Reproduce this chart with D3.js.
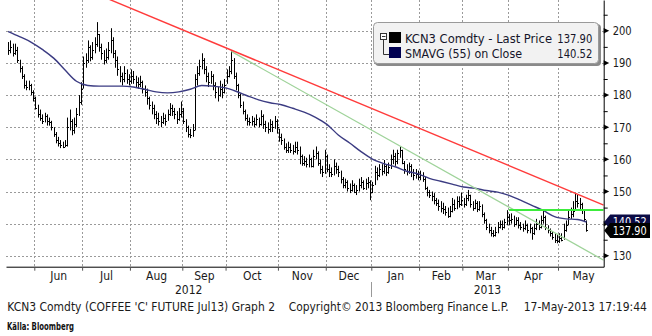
<!DOCTYPE html>
<html><head><meta charset="utf-8">
<script src="https://cdn.jsdelivr.net/npm/d3@7"></script>
<style>
body{margin:0;background:#fff;}
svg{display:block;}
.t{font-family:"DejaVu Sans Condensed","DejaVu Sans",sans-serif;font-stretch:condensed;}
</style></head><body>
<svg id="c" width="652" height="336"></svg>
<script>
// ---------- data ----------
const firstDay = "2012-05-15", lastDay = "2013-05-17";
const holidays = ["2012-05-28","2012-07-04","2012-09-03","2012-11-22","2012-12-25",
                  "2013-01-01","2013-01-21","2013-02-18","2013-03-29","2013-05-27"];
const closes = [
194,195,193,194,191,188.5,186,183,182.5,183,
181,179,176,174,173,172,173.5,172,171.5,170,
168,166,165,164.5,164,164.5,170,172,169,171,
174,178,182,190,191,195,192,194,196,199,
195,193,191,192,194,197,193,191,188,186,
185,187,185,184.5,186,185,184,183.5,184,182,
181,179,177,176,174,173,172,171.5,173,172,
174,176,175,174,172.5,174,175,172,170,168,
167.5,169,185,187,189,191,188,186,184,186,
183,181,180,182,181,183,186,187.5,191,186,
183,180,177,175,173,172,171.5,172,171,172.5,
171,173.5,171,170,169.5,171,170,172,170,167,
166,164,163,164,163,162.5,164,163,161,159,
159.5,158.5,160,158,161,162,159,157,156,161,
157,156,155.5,158,157,156,154,152,153,151,
150.5,152,150,150.5,152,153,151,152.5,153,150,
152,156,155,157,156.5,158,156,157.5,160,161,
159.5,162,163,159,157,156.5,158,156,155,155.5,
154.5,155,154,151,150,149,148.5,147.5,146.5,145.5,
145,144.5,143.5,142.5,144,146,145,147,146,147.5,
146,148,149,146,145,146.5,144.5,145.5,143,141,
139,138,137,136.5,137.5,139,140,139,140.5,142,
141,141.5,140,141,139.5,139,138.5,139.5,138,138.5,
137,138.5,140,139,141,142,139,138,137,136,
135,134.5,135.5,135,138,139.5,142,143,144,147,
146.5,146,144.5,141.5,137.9];
const highs = [
196.5,197,196,196,195,191,189,186.5,184.5,184.5,
183.5,181.5,179.5,177,175.5,174,174.5,174,173,172,
170,168.5,167,166,165.5,166,173,175.5,172.5,173,
176,180,184,192,193,197,195.5,196.5,198,202.7,
199,196,194,194.5,196.5,200.8,198,194,192,189,
187,189,188,186.5,188,187.5,186,185.5,186,184.5,
183,182,179.5,178,177,175,174.5,173.5,174.5,174,
175.5,177.5,177,176,175,176,178,176,172.5,170.5,
169.5,171,186.5,189,191,193,191.5,189,187,187.5,
186.5,184,182.5,184.5,183.5,185,188,189,194,191.5,
187,183.5,180.5,178,175.5,174,173,173.5,173,174,
173,175.3,174,172,171.5,172.5,172,173.5,172.5,169.5,
168,166.5,165,165.5,165,164.5,165.5,165.5,164,161.5,
161,160.5,161.5,160.5,163,164,162.5,160,158,163,
161.5,158.5,157.5,160,159,158,156.5,154.5,154,153.5,
152.5,153.5,152.5,152,154,154.5,153.5,154,154.5,153.5,
153,158,157.5,158.5,158.5,159.8,158.5,159,161.5,163,
162,163,164,163,159.5,158.5,159,158.5,157,157,
156.5,156.5,156,154.5,151.5,150.5,150,149.5,148,147.5,
147,146.5,145.5,145,145.5,148,147.5,148.5,148.5,149.7,
148,149,150.5,149,147,147.5,147,147,146,143.5,
141.5,140,139,138,139,140.5,141,141,141.5,144.2,
143,143.2,142.5,142,142,140.5,140,141,140,140,
139,140,141.5,141,142.5,144.2,142.5,139.5,138.5,137.5,
137,136.5,137,137,140,141,144,145,147,149.5,
149,148,146.5,144.5,141];
const lows = [
192.5,193,192,192.5,190,187,185,182,181.5,181.5,
180,178,175.5,173,172,171,171.5,170.5,170.5,169,
167,165,164,163.5,163.5,163.8,164,169,167.5,168,
170,173.5,177,182,188.5,190,190.5,191,193,195,
193.5,191,189.5,190,191,193,191.5,188.5,186,184,
183,184,183.5,183,183.5,183.5,182.5,182,182.5,180.5,
179.5,177,175.5,174,172.5,171,170.5,170,171,170.5,
172,173.5,173.5,172.5,171,172,173,171,168.5,166.8,
166.6,167,169,183,186,188,186.5,184,182.5,183.5,
181.5,179,178,179.5,179,180.5,183.5,185.5,186.5,185,
181.5,179,176,174,172,170.5,170.5,170.5,170,170.5,
170,170.5,169.5,168.5,168,168.5,168.5,169.5,168,165.5,
164.5,163,162,162,162,161.5,162,161.5,158.5,158,
158,157.5,157.5,157.5,157.5,160,158,155.5,154.5,155.5,
156,154.5,154.5,155,155.5,154.5,152.5,151,151,150,
149.5,150,149.5,148.9,150,151,150.5,150.5,151,147.3,
149.5,152,153.5,154.5,155,155.5,154.8,155.5,157,158.5,
158,158.5,160.5,158.5,155.5,155,155.5,154.5,153.5,154,
153.5,153.5,153,150.5,148.5,148,147,146,145.5,144,
143.5,143,142.5,141.8,142,143.5,144,144.5,145,145.5,
145,145.5,147,145,144,144.5,143.6,144,142,140,
138,137,136,135.8,136,137,138.5,138,138.5,139.5,
139.5,140,139,139.5,138.5,138,137.5,138,137,137,
135,136.5,138,138,138.5,140,138,137,136,135,
134,133.9,134,134.5,135,137.5,139.5,141.5,142,144,
145,144.5,143,140.5,137.5];
// SMAVG(55) at every 5th trading day
const smaIdx = [0,5,10,15,20,25,30,35,40,45,50,55,60,65,70,75,80,85,90,95,100,105,110,115,120,125,
                130,135,140,145,150,155,160,165,170,175,180,185,190,195,200,205,210,215,220,225,230,235,240,245,250,254];
const smaVals = [199.8,198.2,196.5,194.2,191.5,187.8,184.3,183,182.8,182.8,182.8,182.5,181.8,181,180.7,181,181.8,183,182.8,182.3,
                 181.2,179.8,178.5,177.6,177,175.9,174.7,173.1,170.9,167.6,165.1,162.4,160.1,158.7,157.7,156.3,155.5,154.1,153.2,152.3,
                 151.4,151,150.3,149.8,148.8,147.3,145.7,144.1,142.2,141.5,141.3,140.52];
const yTicks = [130,140,150,160,170,180,190,200];
const yLabels = [130,150,160,170,180,190,200]; // 140 is hidden behind the value flags
const yMinor = [135,145,155,165,175,185,195,205];
const monthNames = ["Jun","Jul","Aug","Sep","Oct","Nov","Dec","Jan","Feb","Mar","Apr","May"];
const yearNames = ["2012","2013"];
const redAnchors = [{i:98, v:194.0}, {i:249, v:149.5}];
const greenAnchors = [{i:98, v:193.6}, {i:172, v:164.2}];
const resistance = {i:220, v:144.25};
const lastPrice = 137.90, lastSma = 140.52;
const legendNames = ["KCN3 Comdty - Last Price", "SMAVG (55) on Close"];
const footer = ["KCN3 Comdty (COFFEE 'C' FUTURE Jul13) Graph 2", "Copyright\u00a9 2013 Bloomberg Finance L.P.", "17-May-2013 17:19:44"];
const source = "K\u00e4lla: Bloomberg";

// ---------- trading calendar ----------
const hol = new Set(holidays);
const fmt = d3.utcFormat("%Y-%m-%d");
const days = d3.utcDay.range(new Date(firstDay+"T00:00Z"), new Date("2013-06-05T00:00Z"))
  .filter(d => d.getUTCDay()!==0 && d.getUTCDay()!==6 && !hol.has(fmt(d)));
const monthStart = [];
days.forEach((d,i)=>{ if(i>0 && d.getUTCMonth()!==days[i-1].getUTCMonth()) monthStart.push(i); });

// ---------- layout ----------
const plotL=6, plotR=603.7, plotT=0, plotB=266.7;
const x = d3.scaleLinear().domain([-0.93, 261.57]).range([plotL, plotR]);
const y = d3.scaleLinear().domain([126.61, 209.58]).range([plotB, plotT]);
const svg = d3.select("#c");
svg.append("rect").attr("width",652).attr("height",336).attr("fill","#fff");
const defs = svg.append("defs");
defs.append("clipPath").attr("id","clip").append("rect")
  .attr("x",plotL).attr("y",plotT).attr("width",plotR-plotL).attr("height",plotB-plotT);

const bounds = monthStart.filter(i => x(i-0.5) < plotR).map(i=>i-0.5);

// grid
const grid = svg.append("g").attr("stroke","#9a9a9a").attr("stroke-width",1).attr("stroke-dasharray","2,2");
yTicks.forEach(v=>{ const yy=Math.round(y(v))+0.5;
  grid.append("line").attr("x1",plotL).attr("x2",plotR).attr("y1",yy).attr("y2",yy); });
bounds.forEach(b=>{ const xx=Math.round(x(b))+0.5;
  grid.append("line").attr("x1",xx).attr("x2",xx).attr("y1",plotT).attr("y2",plotB); });

// price bars
const plot = svg.append("g").attr("clip-path","url(#clip)");
const bars = plot.append("g").attr("stroke","#000").attr("stroke-width",1);
closes.forEach((c,i)=>{
  const xx = Math.round(x(i))+0.5;
  bars.append("line").attr("x1",xx).attr("x2",xx).attr("y1",y(highs[i])).attr("y2",y(lows[i]));
  const yc = Math.round(y(c))+0.5;
  bars.append("line").attr("x1",xx).attr("x2",xx+1.5).attr("y1",yc).attr("y2",yc);
});

// moving average
const sma = smaIdx.map((i,k)=>({i, v:smaVals[k]}));
plot.append("path").datum(sma).attr("fill","none").attr("stroke","#3b3b82").attr("stroke-width",1.4)
  .attr("d", d3.line().x(d=>x(d.i)).y(d=>y(d.v)).curve(d3.curveMonotoneX));

// trend lines
function ext(a,b,i0,i1){ const m=(b.v-a.v)/(b.i-a.i); return [{i:i0,v:a.v+m*(i0-a.i)},{i:i1,v:a.v+m*(i1-a.i)}]; }
const ln = d3.line().x(d=>x(d.i)).y(d=>y(d.v));
const iEnd = x.domain()[1];
plot.append("path").attr("d", ln(ext(greenAnchors[0],greenAnchors[1],greenAnchors[0].i,iEnd)))
  .attr("stroke","#9fd39a").attr("stroke-width",1.3).attr("fill","none");
plot.append("path").attr("d", ln(ext(redAnchors[0],redAnchors[1],x.domain()[0],iEnd)))
  .attr("stroke","#ff3b3b").attr("stroke-width",1.4).attr("fill","none");
plot.append("path").attr("d", ln([resistance,{i:iEnd,v:resistance.v}]))
  .attr("stroke","#3cec3c").attr("stroke-width",2).attr("fill","none");

// bottom axis (ticks at month boundaries)
const gx = svg.append("g").attr("transform",`translate(0,${plotB})`)
  .call(d3.axisBottom(x).tickValues(bounds).tickSize(4).tickSizeOuter(0).tickFormat(""));
gx.selectAll("path").attr("stroke","#000");
gx.selectAll("line").attr("stroke","#555");

// month labels
const labIdx = monthStart.slice(0,12).map((s,k)=>{ const e = monthStart[k+1]; return ((s-0.5)+(e-0.5))/2; });
const gm = svg.append("g").attr("transform",`translate(0,${plotB})`)
  .call(d3.axisBottom(x).tickValues(labIdx).tickSize(0).tickFormat((d,k)=>monthNames[k]));
gm.select(".domain").remove();
gm.attr("font-family",null).attr("font-size",null);
gm.selectAll("text").attr("class","t").attr("y",13.3).attr("dy",0)
  .attr("font-size",12).attr("fill","#1a1a1a");

// year labels
const jan = monthStart[7]-0.5;
const yearPos = [(plotL + x(jan))/2, (x(jan)+plotR)/2];
yearNames.forEach((t,k)=> svg.append("text").attr("class","t").attr("x",yearPos[k]).attr("y",294)
  .attr("text-anchor","middle").attr("font-size",12).attr("fill","#1a1a1a").text(t));
svg.append("line").attr("x1",Math.round(x(jan))+0.5).attr("x2",Math.round(x(jan))+0.5)
  .attr("y1",282).attr("y2",297).attr("stroke","#999");

// right axis
const gy = svg.append("g").attr("transform",`translate(${plotR},0)`)
  .call(d3.axisRight(y).tickValues(yLabels).tickSize(0).tickPadding(9).tickSizeOuter(0).tickFormat(d3.format("d")));
gy.select(".domain").attr("stroke","#000");
gy.attr("font-family",null).attr("font-size",null);
gy.selectAll("text").attr("class","t").attr("font-size",12).attr("fill","#1a1a1a")
  .attr("textLength",19).attr("lengthAdjust","spacingAndGlyphs");
const gyMinor = svg.append("g").attr("transform",`translate(${plotR},0)`)
  .call(d3.axisRight(y).tickValues(yMinor).tickSize(4).tickFormat(""));
gyMinor.select(".domain").remove();
gyMinor.selectAll("line").attr("stroke","#000");
yTicks.forEach(v=>{ const yy=y(v);
  svg.append("path").attr("d",`M${plotR},${yy-2.7}L${plotR+5.5},${yy}L${plotR},${yy+2.7}Z`).attr("fill","#000"); });

// last value flags (price flag drawn on top of the SMA flag)
const cP = y(lastPrice), cS = y(lastSma);
defs.append("clipPath").attr("id","smaClip").append("rect")
  .attr("x",plotR).attr("y",cS-8).attr("width",50).attr("height",(cP-7.5)-(cS-8));
function flag(c, fill, label, clip){
  const g = svg.append("g");
  g.append("path").attr("d",`M${plotR+0.5},${c}L${plotR+6.5},${c-7.5}L${650},${c-7.5}L${650},${c+7.5}L${plotR+6.5},${c+7.5}Z`).attr("fill",fill);
  const t = g.append("text").attr("class","t").attr("x",612.7).attr("y",c+4.4).attr("font-size",12).attr("fill","#fff")
    .attr("textLength",34).attr("lengthAdjust","spacingAndGlyphs").text(label);
  if(clip) t.attr("clip-path",`url(#${clip})`);
}
flag(cS, "#0b0b45", d3.format(".2f")(lastSma), "smaClip");
flag(cP, "#000", d3.format(".2f")(lastPrice));

// legend
const lg = svg.append("g");
lg.append("rect").attr("x",375).attr("y",24).attr("width",226).attr("height",42).attr("rx",4).attr("fill","#8a8a8a");
lg.append("rect").attr("x",373.5).attr("y",22.5).attr("width",225).attr("height",41).attr("rx",4)
  .attr("fill","#f2f2f2").attr("stroke","#9a9a9a");
lg.append("rect").attr("x",380.5).attr("y",33.5).attr("width",6).attr("height",6).attr("fill","#fff").attr("stroke","#333");
lg.append("line").attr("x1",382).attr("x2",385.5).attr("y1",36.5).attr("y2",36.5).attr("stroke","#333");
lg.append("path").attr("d","M383.5,39.5V54.5H389").attr("fill","none").attr("stroke","#333");
lg.append("rect").attr("x",389).attr("y",32).attr("width",12).attr("height",11).attr("fill","#000");
lg.append("rect").attr("x",389).attr("y",47).attr("width",12).attr("height",11).attr("fill","#000050");
const lgVals = [d3.format(".2f")(lastPrice), d3.format(".2f")(lastSma)];
const lgLen = [147,117];
legendNames.forEach((t,k)=>{
  lg.append("text").attr("class","t").attr("x",405).attr("y",42.7+15*k).attr("font-size",12).attr("fill","#15152a")
    .attr("textLength",lgLen[k]).attr("lengthAdjust","spacingAndGlyphs").text(t);
  lg.append("text").attr("class","t").attr("x",557.3).attr("y",42.7+15*k).attr("font-size",12).attr("fill","#15152a")
    .attr("textLength",35).attr("lengthAdjust","spacingAndGlyphs").text(lgVals[k]);
});

// footer
const fx = [7.3,288.7,523.7], fl = [267.7,220,123.3];
footer.forEach((t,k)=> svg.append("text").attr("class","t").attr("x",fx[k]).attr("y",310.6).attr("font-size",12)
  .attr("fill","#1a1a1a").attr("textLength",fl[k]).attr("lengthAdjust","spacingAndGlyphs").text(t));
svg.append("text").attr("class","t").attr("x",7).attr("y",330.3).attr("font-weight","bold")
  .attr("font-size",10).attr("fill","#111").attr("textLength",67).attr("lengthAdjust","spacingAndGlyphs").text(source);
</script>
</body></html>
